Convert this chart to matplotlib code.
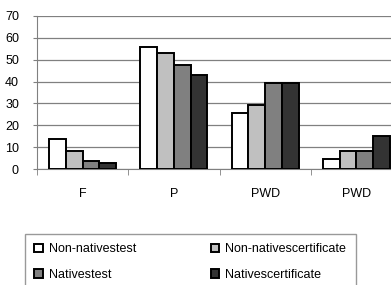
import matplotlib.pyplot as plt
import numpy as np
from matplotlib.patches import Patch

# Bar chart of test vs certificate results, natives vs non-natives

categories = ["F", "P", "PWD", "PWD"]
series_names = ["Non-nativestest", "Non-nativescertificate", "Nativestest", "Nativescertificate"]
non_natives_test = [13.8, 56, 25.7, 4.7]
non_natives_cert = [8.2, 53.2, 29.4, 8.2]
natives_test = [3.6, 47.6, 39.5, 8.2]
natives_cert = [2.8, 43.1, 39.5, 14.9]
colors = ["#ffffff", "#c0c0c0", "#808080", "#333333"]

plt.rcParams['font.family'] = ['Liberation Sans', 'DejaVu Sans']

fig = plt.figure(figsize=(3.91, 2.85), dpi=100)
ax = fig.add_axes([37 / 391, 1 - 169 / 285, 365 / 391, 153 / 285])

series = [non_natives_test, non_natives_cert, natives_test, natives_cert]
x = np.arange(len(categories))
width = 0.183
for i, (vals, c) in enumerate(zip(series, colors)):
    ax.bar(x + (i - 1.5) * width, vals, width, color=c, edgecolor="black", linewidth=1.4, zorder=3)

ax.set_xlim(-0.5, len(categories) - 0.5)
ax.set_ylim(0, 70)
ax.set_yticks(range(0, 71, 10))
ax.yaxis.grid(True, color="#808080", linewidth=0.9, zorder=0)
ax.set_xticks(x)
ax.set_xticklabels(categories)
ax.set_xticks(np.arange(-0.5, len(categories)), minor=True)
ax.tick_params(axis="x", which="major", length=0, pad=14, labelsize=9)
ax.tick_params(axis="x", which="minor", length=4, color="#808080")
ax.tick_params(axis="y", length=3, color="#808080", labelsize=9, pad=10)
for s in ["top", "right"]:
    ax.spines[s].set_visible(False)
ax.spines["left"].set_color("#808080")
ax.spines["bottom"].set_color("#808080")

# matplotlib fills legend columns first, so reorder to get row-wise layout
order = [0, 2, 1, 3]
handles = [Patch(facecolor=colors[k], edgecolor="black", linewidth=1.4) for k in order]
labels = [series_names[k] for k in order]
fig.legend(handles, labels, loc="upper left", bbox_to_anchor=(25 / 391, 1 - 234 / 285),
           ncol=2, fontsize=9, frameon=True, fancybox=False, edgecolor="#808080",
           handlelength=0.7, handleheight=0.7, handletextpad=0.5, columnspacing=5.9,
           borderpad=0.75, labelspacing=1.05, borderaxespad=0)

fig.savefig("out.png", dpi=100)
